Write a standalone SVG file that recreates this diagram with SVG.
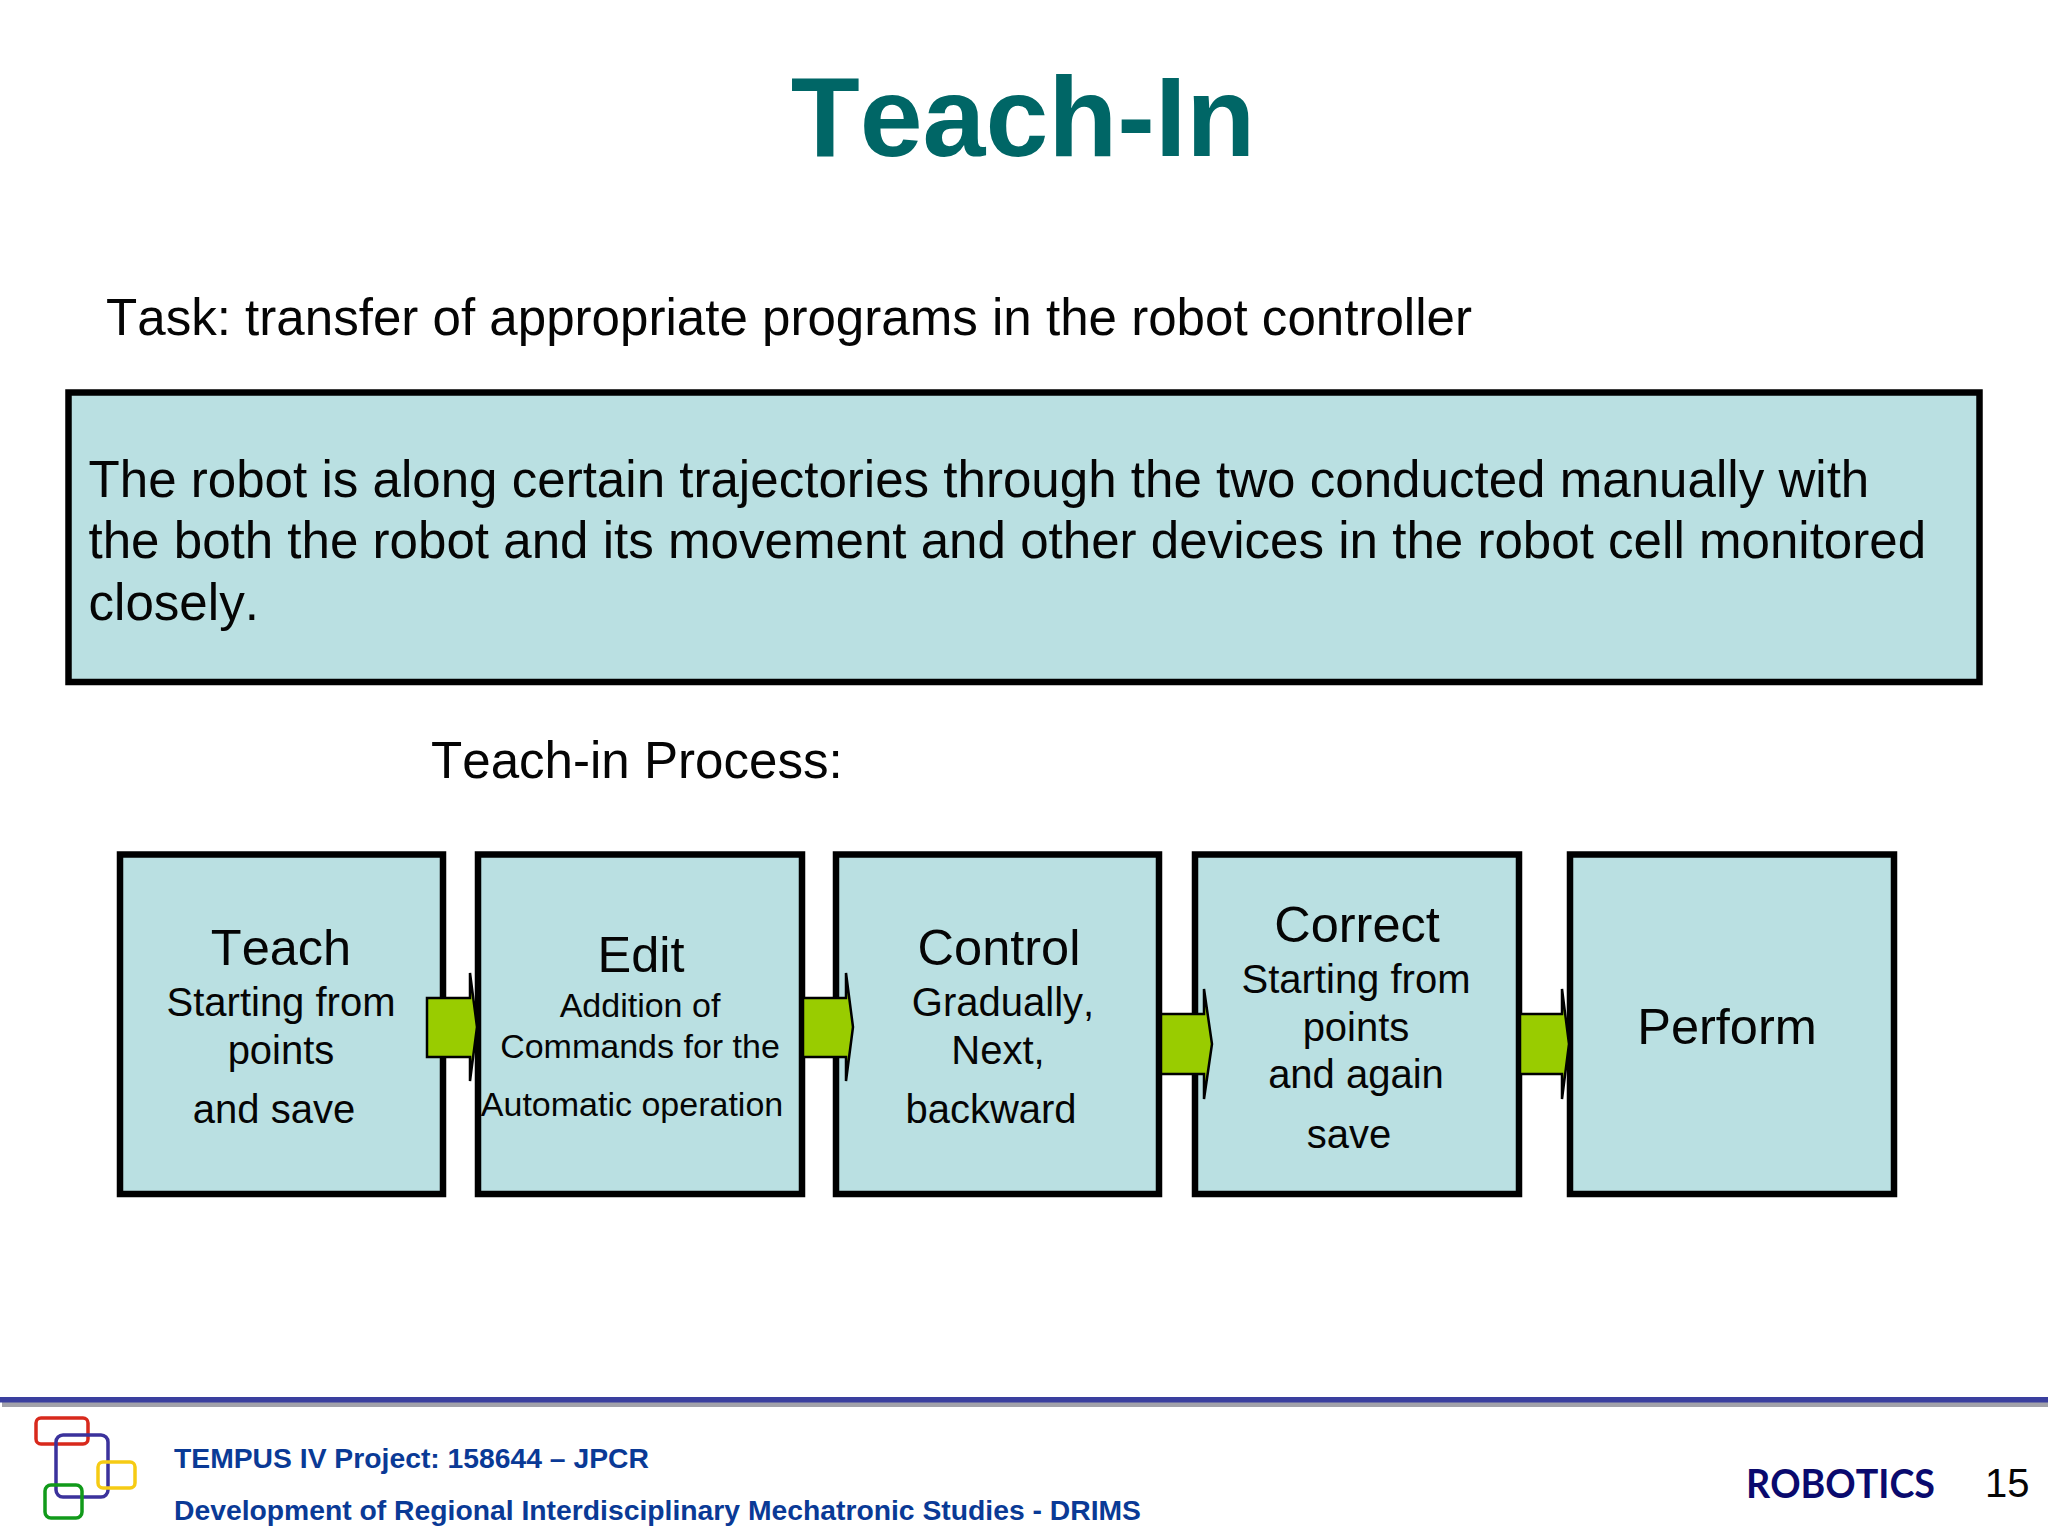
<svg xmlns="http://www.w3.org/2000/svg" width="2048" height="1536" viewBox="0 0 2048 1536">
<style>
text{font-family:"Liberation Sans",Arial,sans-serif;fill:#050505;font-kerning:none}
.box{fill:#bae0e2;stroke:#000;stroke-width:6.5}
.arrow{fill:#99cc00;stroke:#000;stroke-width:2.5}
.m{text-anchor:middle}
.h{font-size:50.5px}
.s{font-size:40px}
.xs{font-size:34px}
.b{font-size:51.1px}
.logo{fill:none;stroke-width:3.5}
.foot{font-size:28.3px;font-weight:bold;fill:#0a3a96}
</style>
<rect width="2048" height="1536" fill="#fff"/>
<text id="title" x="1023" y="156" class="m" style="font-size:113px;font-weight:bold;fill:#006666">Teach-In</text>
<text id="task" x="106" y="335" class="b">Task: transfer of appropriate programs in the robot controller</text>
<g id="description">
<rect class="box" x="68.5" y="392.5" width="1911" height="289.5"/>
<text x="88.5" y="497" class="b">The robot is along certain trajectories through the two conducted manually with</text>
<text x="88.5" y="558" class="b">the both the robot and its movement and other devices in the robot cell monitored</text>
<text x="88.5" y="620" class="b">closely.</text>
</g>
<text id="process" x="431" y="778" class="b">Teach-in Process:</text>
<g id="node-teach">
<rect class="box" x="120" y="854.5" width="323" height="339.5"/>
<text x="281" y="965" class="m h">Teach</text>
<text x="281" y="1016" class="m s">Starting from</text>
<text x="281" y="1064" class="m s">points</text>
<text x="274" y="1123" class="m s">and save</text>
</g>
<g id="node-edit">
<rect class="box" x="478" y="854.5" width="324" height="339.5"/>
<text x="641" y="972" class="m h">Edit</text>
<text x="640" y="1017" class="m xs">Addition of</text>
<text x="640" y="1058" class="m xs">Commands for the</text>
<text x="632" y="1116" class="m xs">Automatic operation</text>
</g>
<g id="node-control">
<rect class="box" x="836" y="854.5" width="323" height="339.5"/>
<text x="999" y="965" class="m h">Control</text>
<text x="1003" y="1016" class="m s">Gradually,</text>
<text x="998" y="1064" class="m s">Next,</text>
<text x="991" y="1123" class="m s">backward</text>
</g>
<g id="node-correct">
<rect class="box" x="1195" y="854.5" width="324" height="339.5"/>
<text x="1357" y="942" class="m h">Correct</text>
<text x="1356" y="993" class="m s">Starting from</text>
<text x="1356" y="1041" class="m s">points</text>
<text x="1356" y="1088" class="m s">and again</text>
<text x="1349" y="1148" class="m s">save</text>
</g>
<g id="node-perform">
<rect class="box" x="1570" y="854.5" width="324" height="339.5"/>
<text x="1727" y="1044" class="m h">Perform</text>
</g>
<g id="connectors">
<path class="arrow" d="M427 998H470V973L477 1027 470 1081V1057H427Z"/>
<path class="arrow" d="M803 998H846V973L853 1027 846 1081V1057H803Z"/>
<path class="arrow" d="M1161 1014H1204V989L1212 1044 1204 1099V1074H1161Z"/>
<path class="arrow" d="M1520 1014H1562V989L1569 1044 1562 1099V1074H1520Z"/>
</g>
<g id="footer">
<rect x="2" y="1402" width="2046" height="5" fill="#a2a2aa"/>
<rect x="0" y="1397" width="2048" height="5.5" fill="#3a3f9e"/>
<rect class="logo" x="36" y="1418" width="52" height="26" rx="5" stroke="#d8291c"/>
<rect class="logo" x="56" y="1435" width="52" height="62" rx="7" stroke="#3b329c"/>
<rect class="logo" x="98" y="1462" width="37" height="26" rx="5" stroke="#f6cb14"/>
<rect class="logo" x="45" y="1485" width="37" height="33" rx="6" stroke="#119a1a"/>
<text x="174" y="1468" class="foot">TEMPUS IV Project: 158644 – JPCR</text>
<text x="174" y="1520" class="foot">Development of Regional Interdisciplinary Mechatronic Studies - DRIMS</text>
<text x="1746" y="1498" style="font-family:Lato,sans-serif;font-size:40px;font-weight:bold;fill:#0a0a6e" textLength="189" lengthAdjust="spacingAndGlyphs">ROBOTICS</text>
<text x="1985" y="1497" style="font-size:40px">15</text>
</g>
</svg>
